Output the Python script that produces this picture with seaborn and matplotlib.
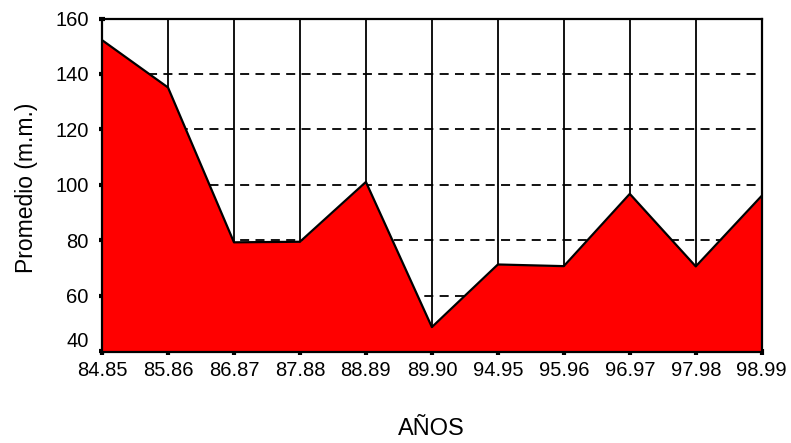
import matplotlib
matplotlib.use("Agg")
import matplotlib.pyplot as plt
import seaborn as sns
import pandas as pd

# rainfall averages per season
years = ["84.85", "85.86", "86.87", "87.88", "88.89", "89.90",
         "94.95", "95.96", "96.97", "97.98", "98.99"]
promedio = [152.2, 135.1, 79.2, 79.4, 101.0, 48.6, 71.2, 70.6, 96.7, 70.5, 96.0]
y_ticks = [40, 60, 80, 100, 120, 140, 160]

df = pd.DataFrame({"pos": range(len(years)), "anio": years, "promedio": promedio})

sns.set_style("white")
plt.rcParams["font.family"] = ["Liberation Sans", "DejaVu Sans"]

fig = plt.figure(figsize=(7.91, 4.43), dpi=100)
ax = fig.add_axes([0.129, 0.2054, 0.834, 0.7528])

ymin = 39.6
ax.fill_between(df["pos"], df["promedio"], ymin, color="#ff0000", linewidth=0, zorder=2)
sns.lineplot(data=df, x="pos", y="promedio", color="black", linewidth=1.6, ax=ax, zorder=4)

# vertical lines at each season
for p in df["pos"]:
    ax.axvline(p, color="black", linewidth=1.3, zorder=1)
# dashed horizontal grid
for t in y_ticks[1:-1]:
    ax.axhline(t, color="black", linewidth=1.3, linestyle=(0, (5, 3.5)), zorder=1)

ax.set_xlim(0, len(years) - 1)
ax.set_ylim(ymin, 160)
ax.set_xticks(df["pos"])
ax.set_xticklabels(years)
ax.set_yticks(y_ticks)

for s in ax.spines.values():
    s.set_color("black")
    s.set_linewidth(1.6)
    s.set_zorder(5)

ax.tick_params(axis="both", labelsize=14.5, colors="black", labelcolor="black",
               length=5, width=3, direction="inout", bottom=True, left=True)
ax.tick_params(axis="x", pad=4)
ax.tick_params(axis="y", pad=7)
ax.get_yticklabels()[0].set_va("bottom")

ax.set_xlabel("")
ax.set_ylabel("")
fig.text(0.545, 0.032, "AÑOS", fontsize=17, color="black", ha="center", va="center")
fig.text(0.033, 0.577, "Promedio (m.m.)", fontsize=16.5, color="black",
         rotation=90, ha="center", va="center")

fig.savefig("out.png", dpi=100)
